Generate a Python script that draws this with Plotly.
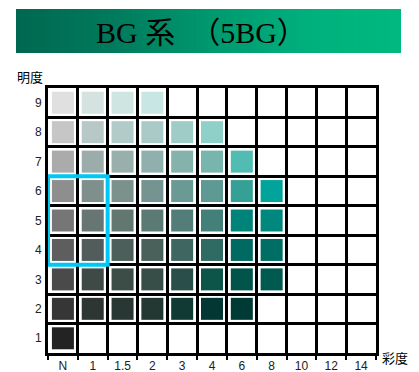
import plotly.graph_objects as go

# ---- data ----
chroma_labels = ["N", "1", "1.5", "2", "3", "4", "6", "8", "10", "12", "14"]
value_labels = ["1", "2", "3", "4", "5", "6", "7", "8", "9"]

value_9 = ["#e0e0e0", "#d4e2e0", "#cfe5e2", "#c8e7e4"]
value_8 = ["#c6c6c6", "#b8c8c6", "#b2cbc8", "#aacac8", "#a0ccc8", "#8fd1c8"]
value_7 = ["#ababab", "#9cacaa", "#98afab", "#8fb0ac", "#85b3ab", "#78b5ad", "#52bbb2"]
value_6 = ["#8e8e8e", "#7e8f8c", "#7b918c", "#759390", "#6b9a94", "#5e9a93", "#35a096", "#00a49a"]
value_5 = ["#767676", "#687673", "#637771", "#5b7a73", "#527d78", "#44807a", "#008479", "#00887e"]
value_4 = ["#5e5e5e", "#525d5b", "#4d5f5a", "#4a615b", "#3f6660", "#2f6b62", "#006960", "#006e65"]
value_3 = ["#4a4a4a", "#3f4a47", "#3c4c47", "#374d48", "#2a4f4a", "#0d5449", "#00544a", "#005a50"]
value_2 = ["#363636", "#2e3634", "#283634", "#233833", "#113a35", "#033733", "#003a35"]
value_1 = ["#232323"]

rows = {1: value_1, 2: value_2, 3: value_3, 4: value_4, 5: value_5,
        6: value_6, 7: value_7, 8: value_8, 9: value_9}

highlight_chroma = ["N", "1"]
highlight_values = [4, 6]

title_text = "BG 系　（5BG）"

# ---- build ----
xs, ys, cs = [], [], []
for v, cols in rows.items():
    for i, c in enumerate(cols):
        xs.append(i)
        ys.append(v)
        cs.append(c)

fig = go.Figure()
fig.add_trace(go.Scatter(
    x=xs, y=ys, mode="markers",
    marker=dict(symbol="square", size=22, color=cs, line=dict(width=0)),
    hoverinfo="skip", showlegend=False,
))

n = len(chroma_labels)
W, H = 419, 372
xdom = [48 / W, 376 / W]
ydom = [(H - 353) / H, (H - 88) / H]

fig.update_xaxes(
    domain=xdom, range=[-0.5, n - 0.5], tickmode="array",
    tickvals=list(range(n)), ticktext=chroma_labels,
    showgrid=False, zeroline=False, ticks="", automargin=False,
    tickfont=dict(family="Liberation Sans, Arial", size=12, color="#222"),
    ticklabelstandoff=0,
    showline=True, mirror=True, linecolor="black", linewidth=3,
    minor=dict(tickmode="array", tickvals=[i - 0.5 for i in range(n + 1)],
               showgrid=True, gridcolor="black", gridwidth=3,
               ticks="outside", ticklen=4, tickcolor="black", tickwidth=2),
    fixedrange=True,
)
fig.update_yaxes(
    domain=ydom, range=[0.5, 9.5], tickmode="array",
    tickvals=list(range(1, 10)), ticktext=value_labels,
    showgrid=False, zeroline=False, ticks="", automargin=False,
    tickfont=dict(family="Liberation Sans, Arial", size=12, color="#222"),
    ticklabelstandoff=1,
    showline=True, mirror=True, linecolor="black", linewidth=3,
    minor=dict(tickmode="array", tickvals=[v + 0.5 for v in range(0, 10)],
               showgrid=True, gridcolor="black", gridwidth=3, ticks=""),
    fixedrange=True,
)

shapes = []
# gradient banner (decoration)
bx0, bx1 = 16 / W, 401 / W
by0, by1 = (H - 53) / H, (H - 9) / H
stops = [(0.0, (0, 104, 80)), (0.25, (0, 122, 92)), (0.5, (0, 152, 110)),
         (0.75, (0, 176, 124)), (1.0, (0, 185, 128))]


def grad(t):
    for (t0, c0), (t1, c1) in zip(stops[:-1], stops[1:]):
        if t <= t1:
            f = (t - t0) / (t1 - t0)
            return "rgb(%d,%d,%d)" % tuple(round(a + (b - a) * f) for a, b in zip(c0, c1))
    return "rgb(%d,%d,%d)" % stops[-1][1]


N = 90
for k in range(N):
    x0 = bx0 + (bx1 - bx0) * k / N
    x1 = bx0 + (bx1 - bx0) * (k + 1.6) / N
    x1 = min(x1, bx1)
    shapes.append(dict(type="rect", xref="paper", yref="paper", x0=x0, x1=x1,
                       y0=by0, y1=by1, fillcolor=grad((k + 0.5) / N),
                       line=dict(width=0), layer="below"))

# highlight rectangle
hx0 = chroma_labels.index(highlight_chroma[0]) - 0.5
hx1 = chroma_labels.index(highlight_chroma[-1]) + 0.5
shapes.append(dict(type="rect", xref="x", yref="y", x0=hx0, x1=hx1,
                   y0=highlight_values[0] - 0.5, y1=highlight_values[1] + 0.5,
                   line=dict(color="#00c8f5", width=4), layer="above"))

annotations = [
    dict(text=title_text, x=0.48, y=(H - 32) / H, xref="paper", yref="paper",
         showarrow=False, xanchor="center", yanchor="middle",
         font=dict(family="Liberation Serif, Noto Sans CJK JP", size=30, color="black")),
    dict(text="明度", x=30 / W, y=(H - 76) / H, xref="paper", yref="paper",
         showarrow=False, xanchor="center", yanchor="middle",
         font=dict(family="Noto Sans CJK JP", size=13, color="black")),
    dict(text="彩度", x=395 / W, y=(H - 357) / H, xref="paper", yref="paper",
         showarrow=False, xanchor="center", yanchor="middle",
         font=dict(family="Noto Sans CJK JP", size=13, color="black")),
]

fig.update_layout(
    width=W, height=H, margin=dict(l=0, r=0, t=0, b=0),
    paper_bgcolor="white", plot_bgcolor="white",
    shapes=shapes, annotations=annotations, showlegend=False,
)

fig.write_html("out.html", config={"displayModeBar": False},
               post_script="document.body.style.margin='0';document.body.style.overflow='hidden';")
